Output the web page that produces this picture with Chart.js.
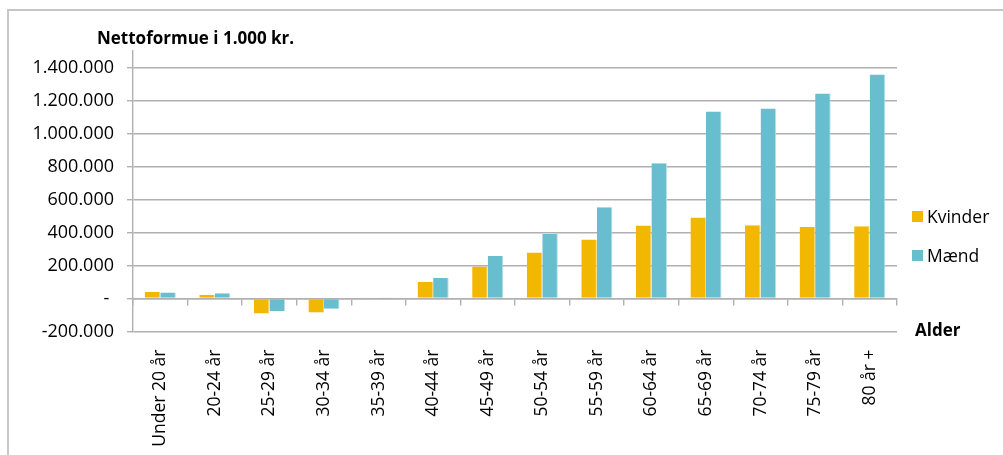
<!DOCTYPE html>
<html>
<head>
<meta charset="utf-8">
<script src="https://cdn.jsdelivr.net/npm/chart.js@4/dist/chart.umd.min.js"></script>
<style>
    body { margin: 0; background: #fff; font-family: "Open Sans", sans-serif; }
    #wrap { position: relative; width: 1003px; height: 455px; overflow: hidden; }
    #frame { position: absolute; left: 7px; top: 9px; width: 1100px; height: 600px; border-left: 2px solid #c6c6c6; border-top: 2px solid #c6c6c6; }
    .txt { position: absolute; line-height: 1; color: #000; white-space: nowrap; }
    #title { left: 97px; top: 29px; font-size: 17px; font-weight: bold; }
    #xtitle { left: 915px; top: 321px; font-size: 17px; font-weight: bold; }
    #legend { position: absolute; left: 912px; top: 205px; }
    .legend-item { display: flex; align-items: center; height: 22px; margin-bottom: 17px; font-size: 17.5px; }
    .legend-box { width: 11px; height: 11px; margin-right: 4px; }
</style>
</head>
<body>
<div id="wrap">
    <div id="frame"></div>
    <canvas id="chart" width="1003" height="455"></canvas>
    <div class="txt" id="title">Nettoformue i 1.000 kr.</div>
    <div class="txt" id="xtitle">Alder</div>
    <div id="legend"></div>
</div>
<script>
// age groups on the x axis
const ageGroups = ["Under 20 år", "20-24 år", "25-29 år", "30-34 år", "35-39 år", "40-44 år", "45-49 år",
    "50-54 år", "55-59 år", "60-64 år", "65-69 år", "70-74 år", "75-79 år", "80 år +"];

// net wealth per group
const kvinder = [40000, 22000, -91000, -85000, -3000, 100000, 194000, 279000, 358000, 442000, 491000, 444000, 434000, 438000];
const maend = [36000, 32000, -75000, -62000, 2000, 124000, 258000, 391000, 553000, 820000, 1133000, 1151000, 1242000, 1357000];

// y axis: range goes a bit above the last labelled tick, like the original
const yMin = -200000;
const yMax = 1500000;
const yTicks = [-200000, 0, 200000, 400000, 600000, 800000, 1000000, 1200000, 1400000];

const gridColor = "#b0b0b0";
const fontName = "'Open Sans', sans-serif";

// Function to format numbers danish style: 1.400.000, zero as "-"
function formatNumber(value) {
    if (value == 0) {return "- "}
    var s = String(Math.abs(value)).replace(/\B(?=(\d{3})+(?!\d))/g, ".");
    return (value < 0 ? "-" : "") + s
}

const chart = new Chart("chart", {
    type: "bar",
    data: {
        labels: ageGroups,
        datasets: [
            {label: "Kvinder", data: kvinder, backgroundColor: "#f2b700", borderColor: "#f6d36a", borderWidth: {right: 1}},
            {label: "Mænd", data: maend, backgroundColor: "#68bdce", borderColor: "#b5e0e8", borderWidth: {right: 1}}
        ]
    },
    options: {
        responsive: false,
        animation: false,
        layout: {padding: {left: 0, top: 51, right: 106, bottom: 0}},
        datasets: {bar: {categoryPercentage: 0.57, barPercentage: 1}},
        plugins: {
            legend: {display: false},
            tooltip: {enabled: false}
        },
        scales: {
            x: {
                offset: true,
                grid: {display: false, drawTicks: false},
                border: {display: false},
                ticks: {
                    minRotation: 90,
                    maxRotation: 90,
                    padding: 18,
                    color: "#000",
                    font: {family: fontName, size: 17.5}
                },
                afterFit: (scale) => {scale.height = 123.5}
            },
            // second x axis only for the tick marks along the zero line
            x0: {
                type: "category",
                position: {y: 0},
                offset: true,
                grid: {offset: true, drawOnChartArea: false, drawTicks: true, tickLength: 6, color: gridColor, lineWidth: 1.4},
                border: {display: true, color: gridColor, width: 1.4},
                ticks: {display: false}
            },
            y: {
                min: yMin,
                max: yMax,
                grid: {color: gridColor, lineWidth: 1.4, tickLength: 6},
                border: {display: true, color: gridColor, width: 1.4},
                ticks: {
                    padding: 13,
                    color: "#000",
                    font: {family: fontName, size: 18},
                    callback: (value) => formatNumber(value)
                },
                afterBuildTicks: (scale) => {scale.ticks = yTicks.map(v => ({value: v}))},
                afterFit: (scale) => {scale.width = 133}
            }
        }
    }
});

// build the legend from the datasets
var html = "";
for (var i = 0; i < chart.data.datasets.length; i++) {
    var ds = chart.data.datasets[i];
    html += `<div class="legend-item"><div class="legend-box" style="background:${ds.backgroundColor}"></div>${ds.label}</div>`;
}
document.getElementById("legend").innerHTML = html;
</script>
</body>
</html>
